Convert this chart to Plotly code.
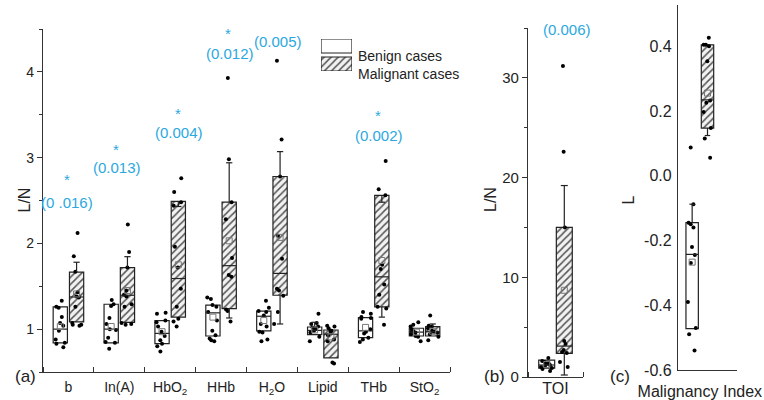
import plotly.graph_objects as go

# ---------------- data ----------------
categories = ["b", "In(A)", "HbO<sub>2</sub>", "HHb", "H<sub>2</sub>O", "Lipid", "THb", "StO<sub>2</sub>"]
p_values = ["(0 .016)", "(0.013)", "(0.004)", "(0.012)", "(0.005)", None, "(0.002)", None]

benign_q1 = [0.84, 0.84, 0.83, 0.92, 0.98, 0.935, 0.90, 0.92]
benign_med = [1.00, 1.00, 0.95, 1.19, 1.15, 0.985, 0.98, 0.965]
benign_q3 = [1.26, 1.29, 1.10, 1.28, 1.21, 1.025, 1.135, 1.01]
benign_mean = [1.03, 1.03, 0.97, 1.14, 1.10, 0.99, 1.02, 0.965]
benign_uw = [None, None, None, None, None, 1.08, None, None]
benign_lw = [None, None, None, None, None, None, None, None]

malignant_q1 = [1.085, 1.078, 1.14, 1.24, 1.395, 0.665, 1.26, 0.92]
malignant_med = [1.375, 1.395, 1.59, 1.74, 1.65, 0.94, 1.61, 0.97]
malignant_q3 = [1.665, 1.717, 2.49, 2.48, 2.78, 0.99, 2.56, 1.03]
malignant_mean = [1.41, 1.45, 1.75, 2.03, 2.07, 0.91, 1.80, 0.975]
malignant_uw = [1.78, 1.845, 2.43, 2.94, 3.07, None, 2.48, 1.06]
malignant_lw = [None, None, None, 1.13, 1.06, None, 1.14, None]

benign_points = [
    [1.33, 1.26, 1.25, 1.14, 1.07, 1.04, 0.98, 0.88, 0.84, 0.83, 0.79],
    [1.34, 1.29, 1.27, 1.13, 1.06, 1.00, 0.99, 0.90, 0.85, 0.84, 0.77],
    [1.19, 1.18, 1.10, 1.08, 1.03, 0.97, 0.92, 0.87, 0.83, 0.80, 0.74],
    [1.37, 1.35, 1.28, 1.26, 1.20, 1.10, 0.98, 0.93, 0.89, 0.87, 0.86],
    [1.33, 1.25, 1.21, 1.20, 1.16, 1.06, 1.03, 0.97, 0.96, 0.88, 0.86],
    [1.18, 1.07, 1.06, 1.03, 1.02, 1.00, 0.98, 0.96, 0.91, 0.86],
    [1.20, 1.18, 1.14, 1.13, 1.12, 1.00, 0.97, 0.95, 0.90, 0.88, 0.85],
    [1.08, 1.05, 1.03, 1.00, 0.98, 0.97, 0.96, 0.94, 0.92, 0.91, 0.86],
]
malignant_points = [
    [2.12, 1.85, 1.67, 1.43, 1.38, 1.37, 1.26, 1.07, 1.05, 1.05, 1.04],
    [2.22, 1.90, 1.72, 1.45, 1.40, 1.38, 1.29, 1.26, 1.07, 1.06, 1.05],
    [2.76, 2.60, 2.48, 2.44, 1.96, 1.72, 1.47, 1.26, 1.12, 1.09, 1.03],
    [3.93, 2.98, 2.48, 2.28, 1.83, 1.63, 1.61, 1.23, 1.21, 1.09],
    [4.13, 3.21, 2.78, 2.09, 1.82, 1.47, 1.45, 1.39, 1.20, 1.06],
    [1.04, 1.03, 1.01, 0.98, 0.97, 0.93, 0.88, 0.86, 0.61, 0.60],
    [2.96, 2.63, 2.56, 1.75, 1.70, 1.52, 1.40, 1.26, 1.24, 1.05],
    [1.16, 1.04, 1.03, 1.01, 0.98, 0.97, 0.96, 0.94, 0.91, 0.87],
]

toi_label = ["TOI"]
toi_p = "(0.006)"
toi_benign = dict(q1=0.9, med=1.2, q3=1.7, mean=1.25, lw=None, uw=None)
toi_malignant = dict(q1=2.37, med=3.1, q3=15.0, mean=8.7, lw=0.2, uw=19.2)
toi_benign_points = [1.9, 1.6, 1.5, 1.4, 1.3, 1.2, 1.1, 1.0, 0.9, 0.8, 0.6]
toi_malignant_points = [31.2, 22.6, 15.0, 3.6, 3.3, 2.7, 2.5, 2.4, 1.5, 1.0]

mi_label = ["Malignancy Index"]
mi_benign = dict(q1=-0.472, med=-0.243, q3=-0.145, mean=-0.267, lw=None, uw=-0.088)
mi_malignant = dict(q1=0.147, med=0.234, q3=0.404, mean=0.255, lw=0.124, uw=None)
mi_benign_points = [0.087, -0.088, -0.145, -0.15, -0.16, -0.22, -0.245, -0.27, -0.39, -0.47, -0.49, -0.54]
mi_malignant_points = [0.426, 0.404, 0.404, 0.40, 0.353, 0.232, 0.225, 0.197, 0.147, 0.115, 0.055]
mi_ticks = [-0.6, -0.4, -0.2, 0.0, 0.2, 0.4]
mi_ticktext = ["-0.6", "-0.4", "-0.2", "0.0", "0.2", "0.4"]

# ---------------- styling ----------------
W, H = 764, 400
FONT = "Arial, Liberation Sans, sans-serif"
AXC = "#333333"
BOXLINE = "#222222"
BLUE = "#2BA8E0"
HATCH = dict(shape="/", fgcolor="#555555", bgcolor="#f2f2f2", size=5, solidity=0.3)


def pxx(x):
    return x / W


def pxy(y):
    return 1 - y / H


fig = go.Figure()


def add_boxes(xa, ya, idx, q1, med, q3, mean, lw, uw, pts, center, bw, hatched):
    left = center - bw / 2
    marker = dict(color="white", line=dict(color=BOXLINE, width=1.2))
    if hatched:
        marker = dict(color="#f2f2f2", pattern=HATCH, line=dict(color=BOXLINE, width=1.2))
    fig.add_trace(go.Bar(
        x=idx, y=[b - a for a, b in zip(q1, q3)], base=q1,
        width=bw, offset=left, marker=marker, xaxis=xa, yaxis=ya,
        showlegend=False, hoverinfo="skip"))
    # medians and whiskers
    lx, ly = [], []
    cap = bw * 0.22
    for i, m, a, b, lo, hi in zip(idx, med, q1, q3, lw, uw):
        c = i + center
        lx += [i + left, i + left + bw, None]
        ly += [m, m, None]
        if hi is not None:
            lx += [c, c, None, c - cap, c + cap, None]
            ly += [b, hi, None, hi, hi, None]
        if lo is not None:
            lx += [c, c, None, c - cap, c + cap, None]
            ly += [a, lo, None, lo, lo, None]
    fig.add_trace(go.Scatter(x=lx, y=ly, mode="lines", line=dict(color=BOXLINE, width=1.2),
                             xaxis=xa, yaxis=ya, showlegend=False, hoverinfo="skip"))
    fig.add_trace(go.Scatter(x=[i + center for i in idx], y=mean, mode="markers",
                             marker=dict(symbol="square-open", size=6, color="#777777", line=dict(width=1)),
                             xaxis=xa, yaxis=ya, showlegend=False, hoverinfo="skip"))
    bx, by = [], []
    for i, p in zip(idx, pts):
        bx += [i + center] * len(p)
        by += p
    fig.add_trace(go.Box(x=bx, y=by, boxpoints="all", jitter=0.85, pointpos=0, width=bw,
                         fillcolor="rgba(0,0,0,0)", line=dict(width=0, color="rgba(0,0,0,0)"),
                         marker=dict(color="black", size=4), xaxis=xa, yaxis=ya,
                         showlegend=False, hoverinfo="skip"))


idx_a = list(range(len(categories)))
add_boxes("x", "y", idx_a, benign_q1, benign_med, benign_q3, benign_mean, benign_lw, benign_uw,
          benign_points, -0.16, 0.28, False)
add_boxes("x", "y", idx_a, malignant_q1, malignant_med, malignant_q3, malignant_mean, malignant_lw,
          malignant_uw, malignant_points, 0.16, 0.28, True)


def single(d, key):
    return [d[key]]


for d, pts, c, hatched in [(toi_benign, toi_benign_points, -0.16, False),
                           (toi_malignant, toi_malignant_points, 0.16, True)]:
    add_boxes("x2", "y2", [0], single(d, "q1"), single(d, "med"), single(d, "q3"), single(d, "mean"),
              single(d, "lw"), single(d, "uw"), [pts], c, 0.29, hatched)

for d, pts, c, hatched in [(mi_benign, mi_benign_points, -0.13, False),
                           (mi_malignant, mi_malignant_points, 0.13, True)]:
    add_boxes("x3", "y3", [0], single(d, "q1"), single(d, "med"), single(d, "q3"), single(d, "mean"),
              single(d, "lw"), single(d, "uw"), [pts], c, 0.21, hatched)

# legend swatches (own small axis)
fig.add_trace(go.Bar(x=[0.5], y=[0.4375], base=[0.5625], width=1, xaxis="x4", yaxis="y4",
                     marker=dict(color="white", line=dict(color=BOXLINE, width=1.2)),
                     showlegend=False, hoverinfo="skip"))
fig.add_trace(go.Bar(x=[0.5], y=[0.4375], base=[0.0], width=1, xaxis="x4", yaxis="y4",
                     marker=dict(color="#f2f2f2", pattern=HATCH, line=dict(color=BOXLINE, width=1.2)),
                     showlegend=False, hoverinfo="skip"))

tickfont = dict(family=FONT, size=14, color="#222222")
tickfont_big = dict(family=FONT, size=15, color="#222222")
common = dict(showline=True, linecolor=AXC, linewidth=1.3, showgrid=False, zeroline=False,
              fixedrange=True, automargin=False)

fig.update_layout(
    template="none",
    width=W, height=H, margin=dict(l=0, r=0, t=0, b=0, autoexpand=False),
    paper_bgcolor="white", plot_bgcolor="white",
    barmode="overlay", boxmode="overlay", showlegend=False,
    font=dict(family=FONT, color="#222222"),
    xaxis=dict(domain=[pxx(43), pxx(450)], range=[-0.5, 7.5], anchor="y",
               tickmode="array", tickvals=idx_a, ticktext=categories, ticks="",
               ticklabelstandoff=2, tickfont=tickfont,
               minor=dict(tickmode="array", tickvals=[i - 0.5 for i in range(9)], ticks="inside",
                          ticklen=5, tickcolor=AXC, tickwidth=1.2), **common),
    yaxis=dict(domain=[pxy(372), pxy(29)], range=[0.5, 4.5], anchor="x",
               tickmode="array", tickvals=[1, 2, 3, 4], ticks="outside", ticklen=5,
               tickcolor=AXC, tickwidth=1.2, tickfont=tickfont,
               minor=dict(dtick=0.5, tick0=0.5, ticks="outside", ticklen=3, tickcolor=AXC), **common),
    xaxis2=dict(domain=[pxx(528), pxx(583)], range=[-0.5, 0.5], anchor="y2",
                tickmode="array", tickvals=[0], ticktext=toi_label, ticks="",
                ticklabelstandoff=-3, tickfont=dict(family=FONT, size=16, color="#222222"),
                minor=dict(tickmode="array", tickvals=[-0.5, 0.5], ticks="inside",
                           ticklen=5, tickcolor=AXC, tickwidth=1.2), **common),
    yaxis2=dict(domain=[pxy(377), pxy(28)], range=[0, 35], anchor="x2",
                tickmode="array", tickvals=[0, 10, 20, 30], ticks="outside", ticklen=5,
                tickcolor=AXC, tickwidth=1.2, tickfont=tickfont_big,
                minor=dict(dtick=5, tick0=0, ticks="outside", ticklen=3, tickcolor=AXC), **common),
    xaxis3=dict(domain=[pxx(678), pxx(737)], range=[-0.37, 0.63], anchor="y3",
                tickmode="array", tickvals=[0], ticktext=mi_label, ticks="",
                ticklabelstandoff=7, tickfont=dict(family=FONT, size=16, color="#222222"), **common),
    yaxis3=dict(domain=[pxy(370), pxy(5)], range=[-0.6, 0.527], anchor="x3",
                tickmode="array", tickvals=mi_ticks, ticktext=mi_ticktext, ticks="",
                ticklabelstandoff=2, tickfont=dict(family=FONT, size=16, color="#222222"), **common),
    xaxis4=dict(domain=[pxx(321), pxx(352)], range=[0, 1], visible=False, anchor="y4",
                fixedrange=True, automargin=False),
    yaxis4=dict(domain=[pxy(71), pxy(39)], range=[0, 1], visible=False, anchor="x4",
                fixedrange=True, automargin=False),
)

ann = []
# significance markers, panel a (x offset in category units, y in data units)
star_pos = [(-0.03, 2.74), (-0.07, 3.09), (0.15, 3.51), (0.13, 4.45), (0.10, 4.57), None, (0.09, 3.49), None]
text_pos = [(-0.03, 2.48), (-0.05, 2.88), (0.17, 3.29), (0.17, 4.22), (0.12, 4.35), None, (0.10, 3.26), None]
for i, (pv, sp, tp) in enumerate(zip(p_values, star_pos, text_pos)):
    if pv is None:
        continue
    ann.append(dict(x=i + sp[0], y=sp[1], xref="x", yref="y", text="*", showarrow=False,
                    font=dict(family=FONT, size=15, color=BLUE)))
    ann.append(dict(x=i + tp[0], y=tp[1], xref="x", yref="y", text=pv, showarrow=False,
                    font=dict(family=FONT, size=15, color=BLUE)))
ann.append(dict(x=0.19, y=36.8, xref="x2", yref="y2", text="*", showarrow=False,
                font=dict(family=FONT, size=15, color=BLUE)))
ann.append(dict(x=0.21, y=34.9, xref="x2", yref="y2", text=toi_p, showarrow=False,
                font=dict(family=FONT, size=15, color=BLUE)))

# axis titles & panel letters
for txt, x, y, ang, size in [("L/N", 13, 200, -90, 16), ("L/N", 490, 200, -90, 16), ("L", 638, 200, -90, 16)]:
    ann.append(dict(x=pxx(x), y=pxy(y), xref="paper", yref="paper", text=txt, textangle=ang,
                    showarrow=False, font=dict(family=FONT, size=size, color="#222222")))
for txt, x in [("(a)", 13), ("(b)", 494), ("(c)", 632)]:
    ann.append(dict(x=pxx(x), y=pxy(388), xref="paper", yref="paper", text=txt, showarrow=False,
                    font=dict(family=FONT, size=17, color="#222222")))
# legend labels
for txt, y in [("Benign cases", 46), ("Malignant cases", 64)]:
    ann.append(dict(x=pxx(356), y=pxy(y), xref="paper", yref="paper", text=txt, showarrow=False,
                    xanchor="left", font=dict(family=FONT, size=14, color="#222222")))

fig.update_layout(annotations=ann)
fig.write_html("out.html", config={"displayModeBar": False},
               post_script="document.body.style.margin='0px';document.body.style.overflow='hidden';")
